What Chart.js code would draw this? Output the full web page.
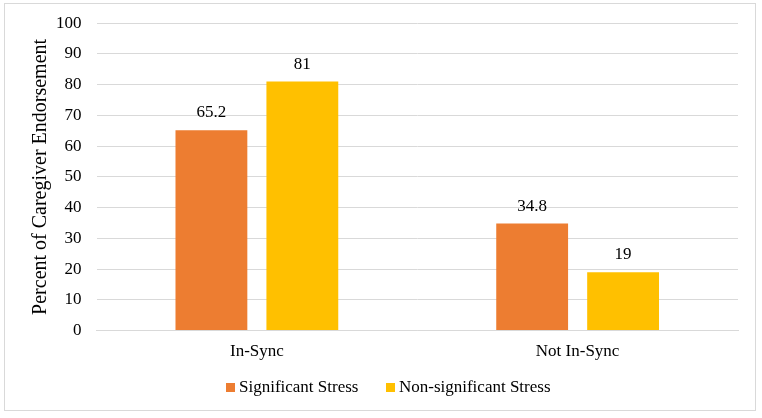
<!DOCTYPE html>
<html>
<head>
<meta charset="utf-8">
<script src="https://cdn.jsdelivr.net/npm/chart.js@4/dist/chart.umd.min.js"></script>
<style>
  html, body { margin: 0; padding: 0; background: #fff; }
  #wrap { position: absolute; left: 4px; top: 3px; width: 752px; height: 408px;
          border: 1px solid #d9d9d9; box-sizing: border-box; }
  canvas { position: absolute; left: 0; top: -6px; }
</style>
</head>
<body>
<div id="wrap"><canvas id="chart" width="750" height="413"></canvas></div>
<script>
var categories = ['In-Sync', 'Not In-Sync'];
var sigStress = [65.2, 34.8];
var nonSigStress = [81, 19];
var yTicks = [0, 100, 10];

var orange = '#ED7D31';
var gold = '#FFC000';

// legend marker: small square pushed to the right of a wider transparent box
function legendSquare(color) {
    var c = document.createElement('canvas');
    c.width = 27;
    c.height = 9;
    var g = c.getContext('2d');
    g.fillStyle = color;
    g.fillRect(18, 0, 9, 9);
    return c;
}

// draws the value over each bar
var valueLabels = {
    id: 'valueLabels',
    afterDatasetsDraw: function(chart) {
        var ctx = chart.ctx;
        ctx.save();
        ctx.font = '17px "Liberation Serif", "Times New Roman", serif';
        ctx.fillStyle = '#000';
        ctx.textAlign = 'center';
        ctx.textBaseline = 'alphabetic';
        chart.data.datasets.forEach(function(ds, i) {
            chart.getDatasetMeta(i).data.forEach(function(bar, j) {
                ctx.fillText(String(ds.data[j]), bar.x, bar.y - 13);
            });
        });
        ctx.restore();
    }
};

var serif = '"Liberation Serif", "Times New Roman", serif';

new Chart(document.getElementById('chart'), {
    type: 'bar',
    data: {
        labels: categories,
        datasets: [
            { label: 'Significant Stress', data: sigStress, backgroundColor: orange,
              pointStyle: legendSquare(orange),
              categoryPercentage: 0.567, barPercentage: 0.79 },
            { label: 'Non-significant Stress', data: nonSigStress, backgroundColor: gold,
              pointStyle: legendSquare(gold),
              categoryPercentage: 0.567, barPercentage: 0.79 }
        ]
    },
    options: {
        responsive: false,
        animation: false,
        layout: { padding: { left: 20, right: 17, top: 0, bottom: 5 } },
        plugins: {
            legend: {
                position: 'bottom',
                labels: { usePointStyle: true, pointStyleWidth: 18, boxHeight: 9, padding: 14,
                          font: { family: serif, size: 17 }, color: '#000' }
            },
            tooltip: { enabled: false }
        },
        scales: {
            x: {
                grid: { display: false },
                border: { display: true, color: '#d9d9d9', width: 1 },
                ticks: { font: { family: serif, size: 17 }, color: '#000', padding: 3 }
            },
            y: {
                min: yTicks[0], max: yTicks[1],
                ticks: { stepSize: yTicks[2], font: { family: serif, size: 17 }, color: '#000', padding: 15 },
                grid: { color: '#d9d9d9', lineWidth: 1, drawTicks: false },
                border: { display: false },
                title: { display: true, text: 'Percent of Caregiver Endorsement',
                         padding: { top: 4, bottom: -12 },
                         font: { family: serif, size: 20 }, color: '#000' }
            }
        }
    },
    plugins: [valueLabels]
});
</script>
</body>
</html>
